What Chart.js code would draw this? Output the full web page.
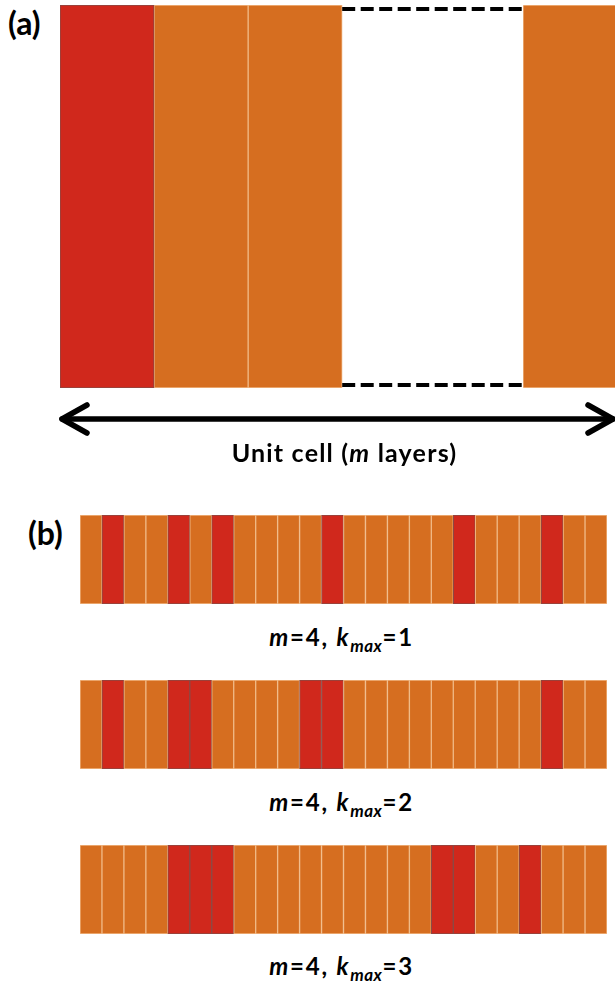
<!DOCTYPE html>
<html>
<head>
<meta charset="utf-8">
<script src="https://cdn.jsdelivr.net/npm/chart.js@4.4.1/dist/chart.umd.min.js"></script>
<style>
  body { margin: 0; background: #fff; width: 615px; height: 983px; overflow: hidden; position: relative;
         font-family: Lato, "Open Sans", sans-serif; font-weight: bold; color: #000; }
  canvas { position: absolute; }
  .lbl { position: absolute; white-space: nowrap; line-height: 1; }
  .panel { font-size: 32px; }
  .unit { font-size: 25px; letter-spacing: 1.2px; width: 615px; text-align: center; }
  .cap { font-size: 24px; letter-spacing: 1.8px; width: 615px; text-align: center; }
  .unit i, .cap i { font-style: italic; }
  .cap sub { font-size: 17px; vertical-align: -6px; line-height: 0; letter-spacing: 0.5px; }
</style>
</head>
<body>
<canvas id="unitChart" width="565" height="440" style="left:50px; top:0px;"></canvas>
<div class="lbl panel" style="left:8px; top:7px;">(a)</div>
<div class="lbl unit" style="top:440px; left:37px;">Unit cell (<i>m</i> layers)</div>

<div class="lbl panel" style="left:28px; top:517px;">(b)</div>
<canvas id="strip1" width="527" height="89" style="left:80px; top:515px;"></canvas>
<div class="lbl cap" id="cap1" style="top:625px; left:34px;"></div>
<canvas id="strip2" width="527" height="89" style="left:80px; top:680px;"></canvas>
<div class="lbl cap" id="cap2" style="top:790px; left:34px;"></div>
<canvas id="strip3" width="527" height="89" style="left:80px; top:845px;"></canvas>
<div class="lbl cap" id="cap3" style="top:954px; left:34px;"></div>

<script>
// --- DATA ---
// panel (a): layers of one unit cell, gap = "more layers" shown as dashed white box
const unitLayers = ['layer 1', 'layer 2', 'layer 3', '...', 'layer m'];
const unitKind = ['red', 'orange', 'orange', 'gap', 'orange'];
const unitStart = [0, 1, 2, 3, 4.92];
const unitEnd = [1, 2, 3, 4.92, 5.92];

// panel (b): 24 layers, 1 = red layer, 0 = orange layer
const layerIndex = Array.from({ length: 24 }, (_, i) => String(i + 1));
const mValue = 4;
const kmaxValues = [1, 2, 3];
const stripK1 = [0,1,0,0,1,0,1,0,0,0,0,1,0,0,0,0,0,1,0,0,0,1,0,0];
const stripK2 = [0,1,0,0,1,1,0,0,0,0,1,1,0,0,0,0,0,0,0,0,0,1,0,0];
const stripK3 = [0,0,0,0,1,1,1,0,0,0,0,0,0,0,0,0,1,1,0,0,1,0,0,0];

// --- COLOURS ---
const RED = '#d0281c';
const ORANGE = '#d66e20';
const RED_EDGE = '#8a4a45';
const ORANGE_EDGE = '#f0b884';

Chart.defaults.animation = false;
Chart.defaults.plugins.legend.display = false;
Chart.defaults.plugins.tooltip.enabled = false;

// dashed top/bottom for the gap layer and the double arrow underneath
const unitDecor = {
    id: 'unitDecor',
    afterDatasetsDraw(chart) {
        const c = chart.ctx;
        const x = chart.scales.x;
        const area = chart.chartArea;
        const gapIdx = unitKind.indexOf('gap');
        const x0 = x.getPixelForValue(unitStart[gapIdx]);
        const x1 = x.getPixelForValue(unitEnd[gapIdx]);
        c.save();
        c.strokeStyle = '#000';
        c.lineWidth = 4;
        c.setLineDash([13, 5.5]);
        [area.top + 4, area.bottom - 3].forEach(y => {
            c.beginPath();
            c.moveTo(x0, y);
            c.lineTo(x1, y);
            c.stroke();
        });
        c.setLineDash([]);

        // arrow
        const ay = area.bottom + 31;
        const left = x.getPixelForValue(x.min) + 2;
        const right = x.getPixelForValue(x.max) - 2;
        c.lineWidth = 5.5;
        c.lineCap = 'round';
        c.lineJoin = 'round';
        c.beginPath();
        c.moveTo(left, ay);
        c.lineTo(right, ay);
        c.stroke();
        c.beginPath();
        c.moveTo(left + 25, ay - 14);
        c.lineTo(left, ay);
        c.lineTo(left + 25, ay + 14);
        c.moveTo(right - 25, ay - 14);
        c.lineTo(right, ay);
        c.lineTo(right - 25, ay + 14);
        c.stroke();
        c.restore();
    }
};

new Chart(document.getElementById('unitChart'), {
    type: 'bar',
    data: {
        labels: ['unit cell'],
        datasets: unitLayers.map((name, i) => ({
            label: name,
            data: [[unitStart[i], unitEnd[i]]],
            backgroundColor: unitKind[i] === 'red' ? RED : unitKind[i] === 'orange' ? ORANGE : '#ffffff',
            borderColor: unitKind[i] === 'red' ? RED_EDGE : ORANGE_EDGE,
            borderWidth: unitKind[i] === 'gap' ? 0 : 1,
            borderSkipped: false,
            grouped: false,
            barPercentage: 1,
            categoryPercentage: 1
        }))
    },
    options: {
        indexAxis: 'y',
        responsive: false,
        layout: { padding: { left: 10, right: 0, top: 5, bottom: 52 } },
        scales: {
            x: { type: 'linear', min: 0, max: 5.9, display: false },
            y: { display: false }
        }
    },
    plugins: [unitDecor]
});

const makeStrip = (canvasId, pattern) => new Chart(document.getElementById(canvasId), {
    type: 'bar',
    data: {
        labels: layerIndex,
        datasets: [{
            label: 'layer',
            data: pattern.map(() => 1),
            backgroundColor: pattern.map(p => p ? RED : ORANGE),
            borderColor: pattern.map(p => p ? RED_EDGE : ORANGE_EDGE),
            borderWidth: 1,
            borderSkipped: false,
            barPercentage: 1,
            categoryPercentage: 1
        }]
    },
    options: {
        responsive: false,
        layout: { padding: 0 },
        scales: {
            x: { display: false },
            y: { min: 0, max: 1, display: false }
        }
    }
});

[stripK1, stripK2, stripK3].forEach((pattern, i) => {
    makeStrip('strip' + (i + 1), pattern);
    document.getElementById('cap' + (i + 1)).innerHTML =
        `<i>m</i>=${mValue}, <i>k<sub>max</sub></i>=${kmaxValues[i]}`;
});
</script>
</body>
</html>
